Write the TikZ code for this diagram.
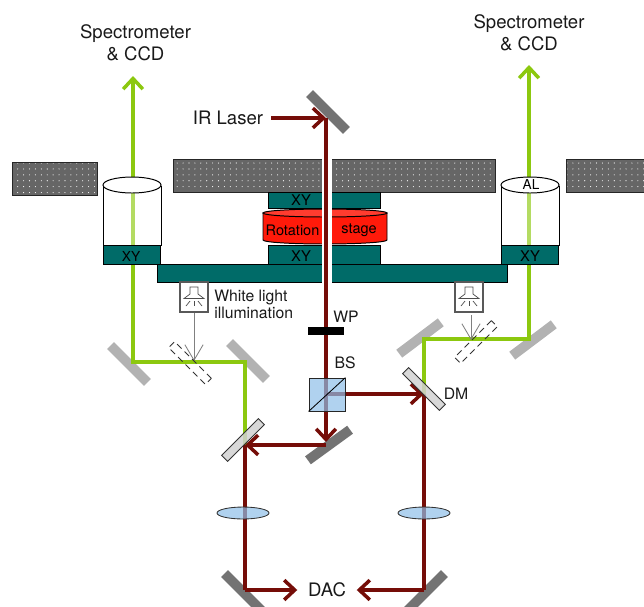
\documentclass[tikz,border=0pt]{standalone}
\usepackage{fontspec}
\setmainfont{TeX Gyre Heros}
\usetikzlibrary{arrows.meta,patterns.meta,shapes.geometric}
\definecolor{irred}{HTML}{750D08}
\definecolor{greenbeam}{HTML}{8CC80F}
\definecolor{tealbox}{HTML}{006B68}
\definecolor{stagered}{HTML}{FF1A0A}
\definecolor{lensblue}{HTML}{8FBFE8}
\tikzset{
  irbeam/.style={draw=irred,line width=2.5pt},
  irarrow/.style={irbeam,-{Straight Barb[length=7.5pt,width=14pt,line width=2.5pt]}},
  greenline/.style={draw=greenbeam,line width=2.5pt},
  greenarrow/.style={greenline,-{Straight Barb[length=7.5pt,width=14pt,line width=2.5pt]}},
  whitearrow/.style={draw=black!50,line width=0.6pt,-{Straight Barb[length=11pt,width=13pt,line width=0.6pt]}},
  mirror/.style={rectangle,minimum width=37pt,minimum height=7pt,inner sep=0pt,fill=black!55},
  lightmirror/.style={mirror,fill=black!30},
  dichroic/.style={mirror,minimum height=6pt,fill=black!18,draw=black!80,line width=0.6pt},
  insertable/.style={mirror,minimum height=6pt,fill=none,draw=black!80,line width=0.6pt,dash pattern=on 4.5pt off 3pt},
  xybox/.style={rectangle,draw=black,line width=0.6pt,fill=tealbox,inner sep=0pt},
  dotbox/.style={rectangle,draw=black!85,line width=0.7pt,inner sep=0pt,preaction={fill=black!60},
    pattern={Dots[distance=4.2pt,radius=0.4pt,angle=0]},pattern color=white},
  lens/.style={ellipse,minimum width=37pt,minimum height=8.5pt,inner sep=0pt,draw=black!80,line width=0.6pt,fill=lensblue,fill opacity=0.7,text opacity=1},
  lamp/.style={rectangle,minimum width=19.5pt,minimum height=21pt,inner sep=0pt,draw=black!65,line width=1.4pt,fill=white},
  biglabel/.style={font=\fontsize{13.2}{15.5}\selectfont,align=center,text=black!90,inner sep=0pt},
  smalllabel/.style={font=\fontsize{11.2}{12.2}\selectfont,align=left,text=black!90,inner sep=0pt},
  boxlabel/.style={font=\fontsize{10.5}{12}\selectfont,inner sep=0pt},
}
\begin{document}
\begin{tikzpicture}[x=0.025cm,y=-0.025cm]
  \useasboundingbox (0,0) rectangle (644,606);

  \node[dotbox,minimum width=61pt,minimum height=22.8pt] (sampleleft) at (55,179) {};
  \node[dotbox,minimum width=228.5pt,minimum height=22.8pt] (samplemid) at (334.5,176) {};
  \node[dotbox,minimum width=56pt,minimum height=22.8pt] (sampleright) at (606,176) {};

  \node[xybox,minimum width=79.7pt,minimum height=11.4pt] (xytop) at (324,200) {};
  \draw[black,line width=0.7pt,fill=stagered] (263,213) -- (263,240) arc[start angle=180,end angle=0,x radius=62,y radius=4] -- (387,213) -- cycle;
  \draw[black,line width=0.7pt,fill=stagered!85!white] (325,213) ellipse[x radius=62,y radius=4];
  \node[xybox,minimum width=79.7pt,minimum height=13.5pt] (xylow) at (324,255) {};
  \node[xybox,minimum width=249pt,minimum height=12.8pt] (bar) at (332,273) {};
  \fill[white] (322,158) rectangle (332,284);

  \node[boxlabel] (xytoplabel) at (301,200.5) {XY};
  \node[boxlabel] (xylowlabel) at (301,256) {XY};
  \node[boxlabel,font=\fontsize{10.3}{12}\selectfont] (rotation) at (292.5,230) {Rotation};
  \node[boxlabel,font=\fontsize{10.3}{12}\selectfont] (stage) at (359,230) {stage};

  \node[mirror,rotate=-45] (mirrortop) at (328,112) {};
  \node[mirror,rotate=36] (mirrorbs) at (329,445) {};
  \node[mirror,rotate=-45] (mirrorbl) at (243,592) {};
  \node[mirror,rotate=45] (mirrorbr) at (426,592) {};
  \node[lightmirror,rotate=-45] (mirrorg1) at (129,364) {};
  \node[lightmirror,rotate=-45] (mirrorg2) at (248,361) {};
  \node[lightmirror,rotate=37] (mirrorg3) at (420,338) {};
  \node[lightmirror,rotate=37] (mirrorg4) at (533,340) {};

  \coordinate (laserstart) at (271,118);
  \coordinate (laserturn) at (326,118);
  \coordinate (bscenter) at (326,394);
  \coordinate (wpcenter) at (326,331);
  \coordinate (mirrorbstip) at (326,442);
  \coordinate (dmturn) at (424,394);
  \coordinate (bsturn) at (326,445);
  \coordinate (dcturn) at (245,445);
  \coordinate (blturn) at (245,590);
  \coordinate (brturn) at (424,590);
  \node[biglabel,inner sep=7.5pt] (dac) at (327,590) {DAC};

  \coordinate (specleft) at (133,76);
  \coordinate (specright) at (529,65);
  \coordinate (g1) at (133,362);
  \coordinate (g2) at (245,362);
  \coordinate (g3) at (529,339);
  \coordinate (g4) at (424,339);
  \coordinate (xyleftout) at (133,264);
  \coordinate (xyrightout) at (529,264);

  \draw[greenline] (dcturn) -- (g2) -- (g1) -- (xyleftout);
  \draw[greenline] (dmturn) -- (g4) -- (g3) -- (xyrightout);
  \draw[greenarrow] (xyleftout) -- (specleft);
  \draw[greenarrow] (xyrightout) -- (specright);

  \draw[black,line width=0.7pt,fill=white,fill opacity=0.35] (103,186) -- (103,245) -- (161,245) -- (161,186);
  \draw[black,line width=0.7pt,fill=white] (132,185) ellipse[x radius=29,y radius=8];
  \node[xybox,minimum width=41pt,minimum height=13.5pt] (xyleft) at (132,254.5) {};
  \node[boxlabel,font=\fontsize{9.8}{12}\selectfont] (xyleftlabel) at (131,256) {XY};

  \draw[black,line width=0.7pt,fill=white,fill opacity=0.35] (501,186) -- (501,245) -- (559,245) -- (559,186);
  \draw[black,line width=0.7pt,fill=white] (530,185) ellipse[x radius=29,y radius=8];
  \node[boxlabel,font=\fontsize{9.7}{12}\selectfont] (al) at (531,185) {AL};
  \node[xybox,minimum width=41pt,minimum height=13.5pt] (xyright) at (530,254.5) {};
  \node[boxlabel] (xyrightlabel) at (530,256) {XY};

  \draw[irarrow] (laserstart) -- (laserturn);
  \draw[irarrow] (laserturn) -- (mirrorbstip);
  \draw[irarrow] (bscenter) -- (dmturn);
  \draw[irarrow] (bsturn) -- (dcturn);
  \draw[irbeam] (dcturn) -- (blturn);
  \draw[irbeam] (dmturn) -- (brturn);
  \draw[irarrow] (blturn) -- (dac.west);
  \draw[irarrow] (brturn) -- (dac.east);

  \node[rectangle,fill=black,minimum width=25.6pt,minimum height=5pt,inner sep=0pt] (wp) at (wpcenter) {};
  \node[rectangle,minimum width=25.6pt,minimum height=23.5pt,inner sep=0pt,draw=black!85,line width=0.6pt,fill=lensblue,fill opacity=0.7] (bs) at (327,394.5) {};
  \draw[black,line width=0.6pt] (bs.south west) -- (bs.north east);
  \node[dichroic,rotate=45,fill opacity=0.85] (dcleft) at (243,440) {};
  \node[dichroic,rotate=-45,fill opacity=0.85] (dcright) at (424,389) {};
  \node[lens] (lensleft) at (243,513) {};
  \node[lens] (lensright) at (424,513) {};

  \node[lamp] (lampleft) at (194,297) {};
  \node[lamp] (lampright) at (469,297) {};
  \foreach \lampname in {lampleft,lampright}{
    \draw[black!65,line width=1.3pt] ([shift={(-14,15)}]\lampname.center) -- ([shift={(14,15)}]\lampname.center);
    \draw[black!70,line width=0.5pt] ([shift={(-4,-10)}]\lampname.center) -- ([shift={(4,-10)}]\lampname.center)
      -- ([shift={(4,-3)}]\lampname.center) -- ([shift={(10,1.5)}]\lampname.center)
      -- ([shift={(-10,1.5)}]\lampname.center) -- ([shift={(-4,-3)}]\lampname.center) -- cycle;
    \draw[black!70,line width=0.5pt] ([shift={(0,4)}]\lampname.center) -- ([shift={(0,9)}]\lampname.center);
    \draw[black!70,line width=0.5pt] ([shift={(-4,4)}]\lampname.center) -- ([shift={(-8,9)}]\lampname.center);
    \draw[black!70,line width=0.5pt] ([shift={(4,4)}]\lampname.center) -- ([shift={(8,9)}]\lampname.center);
  }
  \coordinate (whitetipleft) at (194,361);
  \coordinate (whitestartright) at (471,315);
  \coordinate (whitetipright) at (471,340);
  \draw[whitearrow] (lampleft.south) -- (whitetipleft);
  \draw[whitearrow] (whitestartright) -- (whitetipright);
  \node[insertable,rotate=-45] (insertleft) at (190,363) {};
  \node[insertable,rotate=45] (insertright) at (476,342) {};

  \node[biglabel] (specleftlabel) at (135.5,43) {Spectrometer\\\& CCD};
  \node[biglabel] (specrightlabel) at (529,33) {Spectrometer\\\& CCD};
  \node[biglabel] (irlaser) at (228,118) {IR Laser};
  \node[smalllabel,anchor=west] (whitelight) at (214,304.5) {White light\\illumination};
  \node[smalllabel] (wplabel) at (346,317) {WP};
  \node[smalllabel] (bslabel) at (345,363) {BS};
  \node[smalllabel] (dmlabel) at (456,394) {DM};
\end{tikzpicture}
\end{document}
